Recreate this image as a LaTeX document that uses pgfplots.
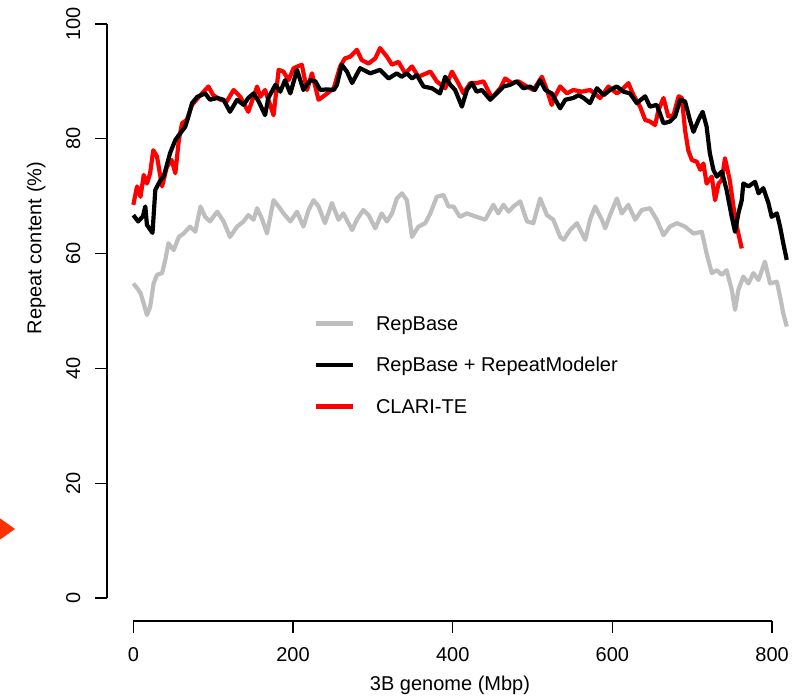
\documentclass[border=0pt]{standalone}
\usepackage{fontspec}
\setmainfont{Liberation Sans}
\usepackage{pgfplots}
\usepackage{pgfplotstable}
\pgfplotsset{compat=1.18}

\definecolor{rgray}{RGB}{190,190,190}
\definecolor{rred}{RGB}{255,0,0}
\definecolor{arrowred}{RGB}{255,48,0}

% RepBase only
\pgfplotstableread{
x y
0 54.8
4.6 54
9 53.1
13 51.3
17 49.3
21 50.7
25.4 54.8
29.6 56.3
36 56.6
40 58.9
44 61.8
50.5 60.6
57 62.9
63 63.5
71 64.7
77.6 63.8
84 68.2
90 66.4
96 65.6
105 67.3
113 65.6
121 62.9
130 64.7
138 65.6
144 66.7
150.6 65.9
155 67.9
161 66.1
167.4 63.5
175.6 69.3
182 68.2
188 67
196.6 65.6
205 67.3
213 64.7
219.5 67.6
225.7 69.3
232 68.2
240 65.3
248.7 68.8
257 65.9
263 67
274 64.1
280 65.9
288 67.6
294.6 66.7
303 64.4
311 67
317.6 65.6
324 67
330 69.6
336.4 70.5
342.6 69.3
349 62.9
357 64.7
365.6 65.3
372 67
380 69.9
388.5 70.2
394.7 68.2
401 68.2
409 66.4
417.8 67
430 66.4
440.7 65.9
451 68.5
457 67
463.6 68.5
470 67.3
476 68.2
484.5 69.1
493 65.6
501 65.3
509.5 69.6
518 66.7
526 65.9
534.6 62.9
539 62.4
547 64.1
555.5 65.3
566 62.4
572 65.9
578.4 68.2
586.8 65.9
591 64.4
597 66.7
605.6 69.6
611.8 67
620 68.5
628.5 65.9
636.8 67.6
647 67.9
655.6 65.9
664 63.2
672 64.7
680.7 65.3
691 64.7
701.5 63.5
712 63.8
718 60
724.5 56.6
730.8 57.1
737 56.3
743 57.1
749.5 53.7
753.6 50.2
757.8 53.7
764 56
770.4 54.8
776.6 56.6
783 55.4
791 58.6
797.5 54.8
806 55.1
810 52.5
814 49.6
818.4 47.3
}\repbase

% RepBase + RepeatModeler
\pgfplotstableread{
x y
0 66.7
6 65.6
12 66.5
15 68.2
17 65
24 63.6
27.5 71.1
34 72.8
38 73.4
46 77.5
52.6 79.8
59 81
65 82.1
69 83.9
73.5 86.2
80 87.3
90 87.9
96 86.8
105 87.1
113 86.8
121 84.7
130 86.8
138 85.9
144 87.1
150.6 87.9
157 86.5
165 84.1
169 87.1
178 89.4
184 88.2
190 90.2
196.6 87.9
205 92
213 88.5
221.6 90.2
228 90
234 88.5
242.5 88.6
251 88.5
255 89.4
261 92.9
267.5 91.7
274 89.7
284 92.3
296.7 91.4
309 92
319.6 90.5
330 91.4
336 90.8
342.6 91.4
349 90.5
355 91.1
363.5 89.1
374 88.8
384 87.9
390.6 90.8
397 89.4
403 88.5
411.5 85.6
417.8 88.5
424 89.7
430 88.2
436.5 88.5
447 86.8
455 87.9
463.6 89.1
472 89.4
480 90
488.6 88.8
497 89.1
503 88.5
509.5 90.2
516 88.5
524 87.9
534.6 85.3
541 86.8
551 87.1
557.6 87.6
564 87.1
572 86.2
580.5 88.8
589 87.6
597 88.5
605.6 89.1
614 88.2
622 87.9
630.6 86.2
641 87.4
647 85.6
655.6 85.9
664 82.7
672 83
678.6 83.9
685 86.8
691 86.5
697 83.3
701.5 81.2
707.8 83.3
713 84.7
718 82.1
722 77.5
726.5 74.6
730.8 73.4
737 74.3
743 71.1
749.5 66.4
753.6 63.8
757.8 67
762 69.3
764 72.2
770.4 71.7
778.7 72.5
783 70.5
789 71.4
795.4 68.8
799.5 66.4
806 67
810 64.7
814 61.8
818.4 58.9
}\repmod

% CLARI-TE
\pgfplotstableread{
x y
0 68.5
4.6 71.7
9 69.9
13 73.7
17 72.2
21 74
25 78
29.6 76.9
36 71.7
42 75.1
48 76.3
52.6 74
57 79.8
61 82.7
67 83.3
73.5 85.9
82 87.3
94 89.1
100 87.6
109 86.8
117 86.5
125.6 88.5
134 87.3
144 84.7
155 89.1
159 87.3
165 88.5
175.6 84.1
182 92
188 91.7
194.4 90.2
200.7 92.3
211 92.9
217.5 88.5
223.7 91.4
232 86.8
240 87.6
251 88.8
259 92.6
265 94
271.7 94.3
280 95.5
286 93.7
294.6 93.1
303 94
309 95.8
317.6 94.3
324 92.9
332 93.4
340.5 91.4
349 92.6
357 90.8
372 91.7
380 90
390.6 88.8
399 91.7
407 89.7
413.5 87.9
422 89.7
430 89.7
438.6 90
449 87.1
459.5 88.8
465.7 90.5
474 89.7
482.4 90
492.9 89.1
501 88.5
511.7 90.8
518 88.5
524 85.9
528 87.4
534.6 89.1
543 87.9
551 88.5
561.7 88.2
572 88.5
584.7 87.1
595 89.1
605.6 87.9
611.8 88.5
620 89.7
626.4 87.6
634.7 85.6
641 83.3
647 83
653.5 82.4
657.7 85
664 87.1
670 83.9
676.5 84.1
683 87.4
687 87.1
691 81.5
695 78
699.5 76.3
705.7 76
710 74.6
714 75.7
718 72.2
724.5 73.4
728.6 69.3
733 72.2
737 72.8
741 76.6
747 72.8
751.6 68.2
755.8 64.7
762 60.9
}\clarite

\begin{document}
\fontsize{20}{24}\selectfont
\begin{tikzpicture}
\begin{axis}[
    at={(107pt,79pt)}, anchor=south west,
    scale only axis, width=709pt, height=620pt,
    xmin=-33, xmax=855, ymin=-4, ymax=104,
    clip=false,
    axis x line*=bottom, axis y line*=left,
    axis line style={draw=none},
    tick align=outside,
    major tick length=12pt,
    tick style={black, line width=1.2pt},
    xtick={0,200,...,800}, ytick={0,20,...,100},
    minor tick num=0,
    /pgf/number format/assume math mode=true,
    ticklabel style={font=\fontsize{20}{24}\selectfont, inner sep=0pt},
    xticklabel style={anchor=north},
    yticklabel style={rotate=90, anchor=base},
    xticklabel shift=14pt, yticklabel shift=15pt,
    xlabel={3B genome (Mbp)},
    ylabel={Repeat content (\%)},
    label style={font=\fontsize{20}{24}\selectfont, inner sep=0pt},
    xlabel style={at={(axis description cs:0.4838,-0.1129)}, anchor=base},
    ylabel style={at={(axis description cs:-0.0924,0.6016)}, anchor=base},
    legend image code/.code={\draw[#1] (0pt,0pt) -- (37pt,0pt);},
    legend style={draw=none, fill=none, at={(axis cs:225.4,49.1)}, anchor=north west,
        inner sep=0pt, row sep=27.5pt, cells={anchor=west},
        nodes={inner sep=0pt, text height=14pt, text depth=0pt, font=\fontsize{20}{24}\selectfont},
        /tikz/every odd column/.append style={column sep=21pt}},
]
\addlegendimage{rgray, line width=4.5pt}
\addlegendentry{RepBase}
\addlegendimage{black, line width=4.5pt}
\addlegendentry{RepBase + RepeatModeler}
\addlegendimage{rred, line width=4.5pt}
\addlegendentry{CLARI-TE}

\addplot[rgray, line width=4.2pt, line join=round, forget plot] table {\repbase};
\addplot[rred, line width=4.2pt, line join=round, forget plot] table {\clarite};
\addplot[black, line width=4.2pt, line join=round, forget plot] table {\repmod};

% R-style detached axis lines
\draw[black, line width=1.2pt] (axis cs:0,-4) -- (axis cs:800,-4);
\draw[black, line width=1.2pt] (axis cs:-33,0) -- (axis cs:-33,100);
\end{axis}
\fill[arrowred] (-2pt,183pt) -- (15pt,171pt) -- (-2pt,159pt) -- cycle;
\pgfresetboundingbox
\path[use as bounding box] (0pt,0pt) rectangle (805pt,700pt);
\end{tikzpicture}
\end{document}
